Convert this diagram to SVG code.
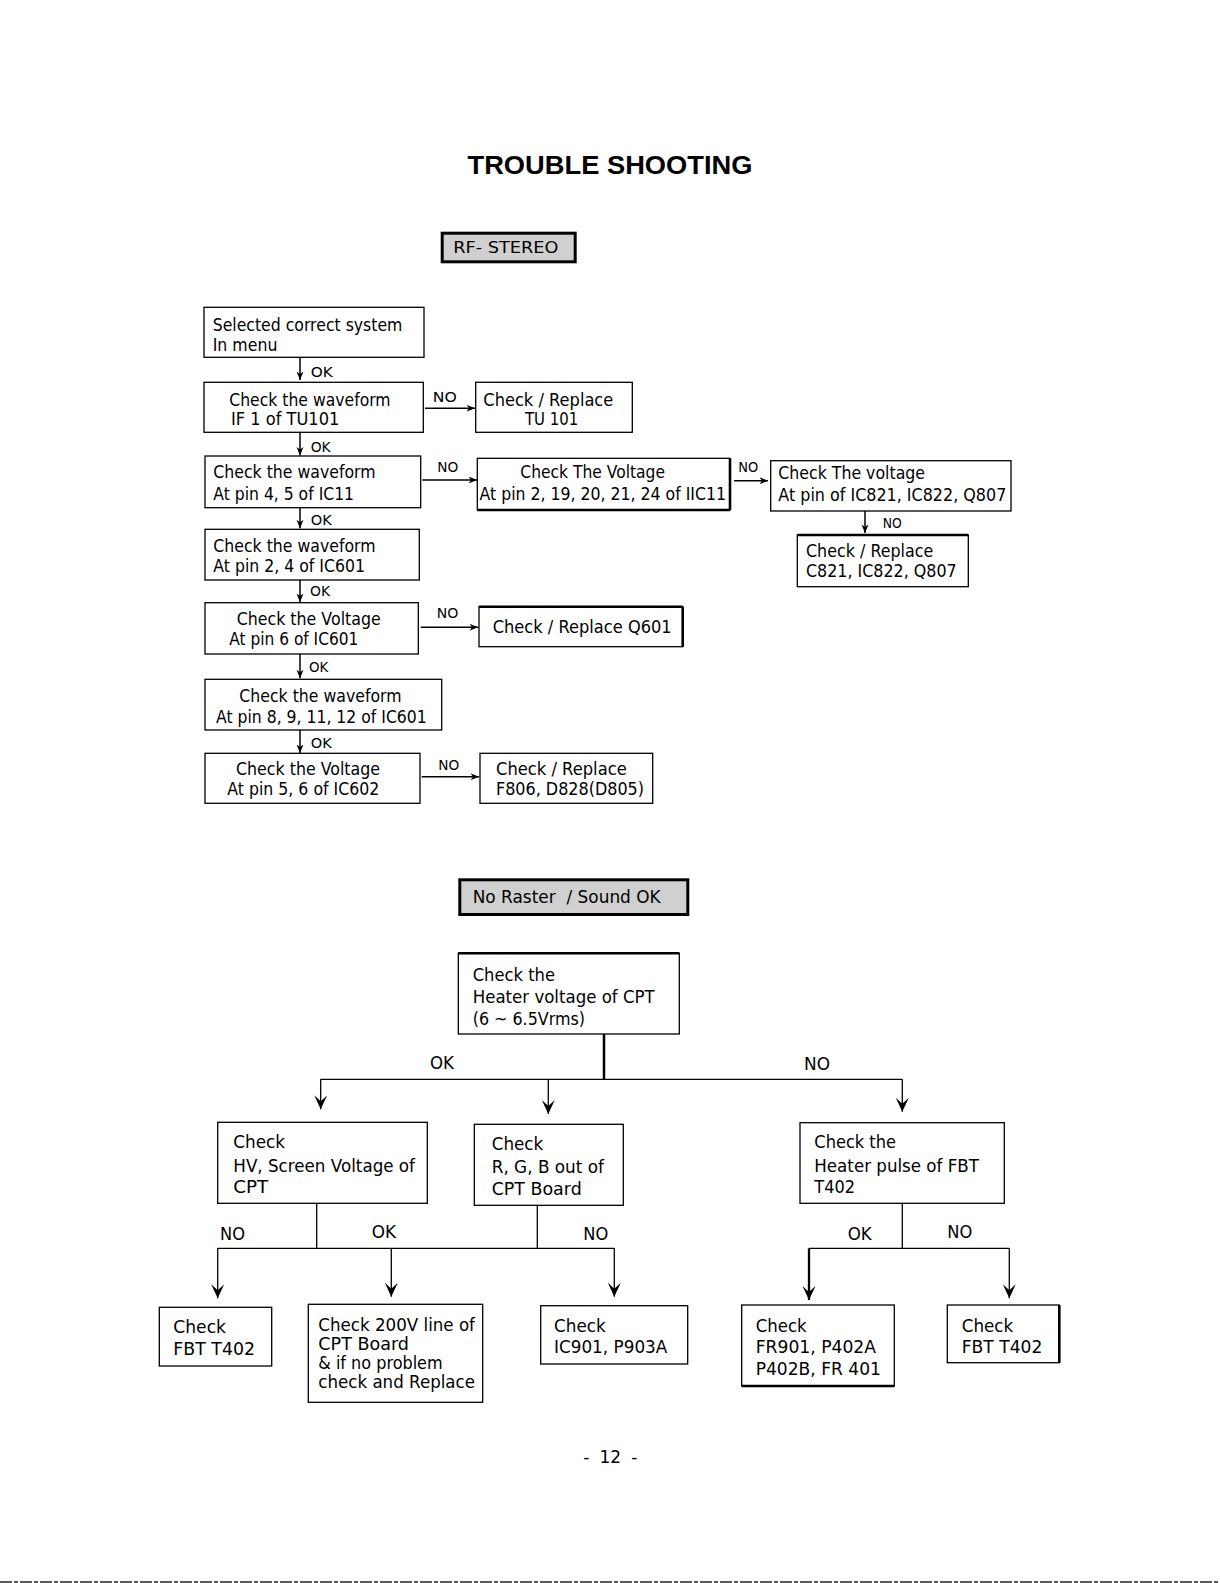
<svg xmlns="http://www.w3.org/2000/svg" width="1220" height="1583" viewBox="0 0 1220 1583">
<style>
.bg{fill:#fff}
.box{fill:#fff;stroke:#000;stroke-width:1.3}
.hdr{fill:#d0d0d0;stroke:#000;stroke-width:3}
.thk{stroke:#000;stroke-width:2.6}
.t{font-family:"DejaVu Sans","Liberation Sans",sans-serif;font-size:18px;fill:#000;white-space:pre}
.s{font-size:14.5px}
.l{font-size:17px}
.h{font-size:16px}
.ttl{font-family:"Liberation Sans",Arial,sans-serif;font-size:26.5px;font-weight:bold;fill:#000}
.c{stroke:#000;stroke-width:1.3;fill:none}
.cs{stroke:#000;stroke-width:1.5;fill:none;marker-end:url(#sa)}
.cl{stroke:#000;stroke-width:1.3;fill:none;marker-end:url(#la)}
</style>
<defs>
<marker id="sa" markerUnits="userSpaceOnUse" markerWidth="9" markerHeight="8" refX="8.5" refY="3.5" orient="auto">
<path d="M0,0 L8.5,3.5 L0,7 L2.5,3.5 z" fill="#000"/>
</marker>
<marker id="la" markerUnits="userSpaceOnUse" markerWidth="15" markerHeight="14" refX="14" refY="6.5" orient="auto">
<path d="M0,0 L14,6.5 L0,13 L6,6.5 z" fill="#000"/>
</marker>
</defs>
<rect class="bg" x="0" y="0" width="1220" height="1583"/>

<g id="title">
<text class="ttl" x="467.5" y="174" textLength="285" lengthAdjust="spacingAndGlyphs">TROUBLE SHOOTING</text>
</g>

<g id="n_rf">
<rect class="hdr" x="442.2" y="233.2" width="133" height="28.6"/>
<text class="t h" x="453.3" y="253.3" textLength="105" lengthAdjust="spacingAndGlyphs">RF- STEREO</text>
</g>

<g id="n1">
<rect class="box" x="204" y="307.3" width="220" height="50"/>
<text class="t" x="212.7" y="331.3" textLength="189.7" lengthAdjust="spacingAndGlyphs">Selected correct system</text>
<text class="t" x="212.7" y="350.7" textLength="64.7" lengthAdjust="spacingAndGlyphs">In menu</text>
</g>
<g id="n2">
<rect class="box" x="204" y="382.3" width="219.3" height="50"/>
<text class="t" x="229.3" y="405.7" textLength="161.3" lengthAdjust="spacingAndGlyphs">Check the waveform</text>
<text class="t" x="231" y="425" textLength="108.3" lengthAdjust="spacingAndGlyphs">IF 1 of TU101</text>
</g>
<g id="n3">
<rect class="box" x="475.7" y="382.3" width="156.6" height="50"/>
<text class="t" x="483.3" y="405.7" textLength="130" lengthAdjust="spacingAndGlyphs">Check / Replace</text>
<text class="t" x="525" y="425" textLength="53.3" lengthAdjust="spacingAndGlyphs">TU 101</text>
</g>
<g id="n4">
<rect class="box" x="205" y="456" width="215.7" height="51.7"/>
<text class="t" x="213.3" y="478.3" textLength="162.3" lengthAdjust="spacingAndGlyphs">Check the waveform</text>
<text class="t" x="213.3" y="500" textLength="140.7" lengthAdjust="spacingAndGlyphs">At pin 4, 5 of IC11</text>
</g>
<g id="n5">
<rect class="box" x="477.3" y="458.3" width="252.7" height="51.7"/>
<line class="thk" x1="477.3" y1="510" x2="730" y2="510"/>
<line class="thk" x1="730" y1="458.3" x2="730" y2="510"/>
<text class="t" x="520.3" y="478.3" textLength="144.7" lengthAdjust="spacingAndGlyphs">Check The Voltage</text>
<text class="t" x="479.5" y="500" textLength="246.5" lengthAdjust="spacingAndGlyphs">At pin 2, 19, 20, 21, 24 of IIC11</text>
</g>
<g id="n6">
<rect class="box" x="770.7" y="460.7" width="240.3" height="50.3"/>
<text class="t" x="778.3" y="479.3" textLength="146.7" lengthAdjust="spacingAndGlyphs">Check The voltage</text>
<text class="t" x="778.3" y="501" textLength="228" lengthAdjust="spacingAndGlyphs">At pin of IC821, IC822, Q807</text>
</g>
<g id="n7">
<rect class="box" x="797.3" y="535" width="171" height="51.7"/>
<line class="thk" x1="797.3" y1="535" x2="968.3" y2="535"/>
<text class="t" x="806" y="556.7" textLength="127.3" lengthAdjust="spacingAndGlyphs">Check / Replace</text>
<text class="t" x="806" y="576.7" textLength="150.7" lengthAdjust="spacingAndGlyphs">C821, IC822, Q807</text>
</g>
<g id="n8">
<rect class="box" x="205" y="529.3" width="214.3" height="50.7"/>
<text class="t" x="213.3" y="551.7" textLength="162.3" lengthAdjust="spacingAndGlyphs">Check the waveform</text>
<text class="t" x="213.3" y="572.3" textLength="151.7" lengthAdjust="spacingAndGlyphs">At pin 2, 4 of IC601</text>
</g>
<g id="n9">
<rect class="box" x="205" y="602.7" width="213.3" height="51.3"/>
<text class="t" x="236.7" y="625" textLength="144" lengthAdjust="spacingAndGlyphs">Check the Voltage</text>
<text class="t" x="229.3" y="645" textLength="129" lengthAdjust="spacingAndGlyphs">At pin 6 of IC601</text>
</g>
<g id="n10">
<rect class="box" x="479" y="606.7" width="203.7" height="40"/>
<line class="thk" x1="479" y1="606.7" x2="682.7" y2="606.7"/>
<line class="thk" x1="682.7" y1="606.7" x2="682.7" y2="646.7"/>
<text class="t" x="492.7" y="632.7" textLength="179" lengthAdjust="spacingAndGlyphs">Check / Replace Q601</text>
</g>
<g id="n11">
<rect class="box" x="205" y="679.3" width="236.7" height="50.7"/>
<text class="t" x="239.3" y="701.7" textLength="162.3" lengthAdjust="spacingAndGlyphs">Check the waveform</text>
<text class="t" x="216" y="722.7" textLength="210.7" lengthAdjust="spacingAndGlyphs">At pin 8, 9, 11, 12 of IC601</text>
</g>
<g id="n12">
<rect class="box" x="205" y="753.3" width="215" height="50"/>
<text class="t" x="236" y="775" textLength="144" lengthAdjust="spacingAndGlyphs">Check the Voltage</text>
<text class="t" x="227.3" y="795" textLength="152" lengthAdjust="spacingAndGlyphs">At pin 5, 6 of IC602</text>
</g>
<g id="n13">
<rect class="box" x="480" y="753.3" width="172.7" height="50"/>
<text class="t" x="496" y="775" textLength="130.7" lengthAdjust="spacingAndGlyphs">Check / Replace</text>
<text class="t" x="496" y="795" textLength="148" lengthAdjust="spacingAndGlyphs">F806, D828(D805)</text>
</g>

<g id="n_raster">
<rect class="hdr" x="459.8" y="879.8" width="228" height="34.7"/>
<text class="t" x="472.7" y="902.7" textLength="188" lengthAdjust="spacingAndGlyphs">No Raster  / Sound OK</text>
</g>
<g id="n_heater">
<rect class="box" x="458.3" y="953.3" width="221" height="80.7"/>
<line class="thk" x1="458.3" y1="953.3" x2="679.3" y2="953.3"/>
<text class="t" x="472.7" y="980.7" textLength="82.3" lengthAdjust="spacingAndGlyphs">Check the</text>
<text class="t" x="472.7" y="1002.7" textLength="182" lengthAdjust="spacingAndGlyphs">Heater voltage of CPT</text>
<text class="t" x="472.7" y="1025" textLength="112.3" lengthAdjust="spacingAndGlyphs">(6 ~ 6.5Vrms)</text>
</g>
<g id="n_hv">
<rect class="box" x="217.7" y="1122.3" width="209.6" height="81"/>
<text class="t" x="233.3" y="1148.3" textLength="51.7" lengthAdjust="spacingAndGlyphs">Check</text>
<text class="t" x="233.3" y="1171.7" textLength="181.7" lengthAdjust="spacingAndGlyphs">HV, Screen Voltage of</text>
<text class="t" x="233.3" y="1193.3" textLength="35" lengthAdjust="spacingAndGlyphs">CPT</text>
</g>
<g id="n_rgb">
<rect class="box" x="474.3" y="1124.3" width="149" height="81"/>
<text class="t" x="491.7" y="1150" textLength="51.6" lengthAdjust="spacingAndGlyphs">Check</text>
<text class="t" x="491.7" y="1173.3" textLength="112.3" lengthAdjust="spacingAndGlyphs">R, G, B out of</text>
<text class="t" x="491.7" y="1195" textLength="90" lengthAdjust="spacingAndGlyphs">CPT Board</text>
</g>
<g id="n_pulse">
<rect class="box" x="800" y="1122.7" width="204.3" height="80.6"/>
<text class="t" x="814.3" y="1148.3" textLength="81.7" lengthAdjust="spacingAndGlyphs">Check the</text>
<text class="t" x="814.3" y="1171.7" textLength="164.7" lengthAdjust="spacingAndGlyphs">Heater pulse of FBT</text>
<text class="t" x="814.3" y="1193.3" textLength="40.7" lengthAdjust="spacingAndGlyphs">T402</text>
</g>
<g id="n_fbt1">
<rect class="box" x="159.3" y="1307.3" width="112.4" height="58.7"/>
<text class="t" x="173.3" y="1333.3" textLength="52.7" lengthAdjust="spacingAndGlyphs">Check</text>
<text class="t" x="173.3" y="1355" textLength="81.7" lengthAdjust="spacingAndGlyphs">FBT T402</text>
</g>
<g id="n_200v">
<rect class="box" x="308.3" y="1304.3" width="174.4" height="98"/>
<text class="t" x="318.3" y="1330.7" textLength="156.7" lengthAdjust="spacingAndGlyphs">Check 200V line of</text>
<text class="t" x="318.3" y="1350" textLength="90.7" lengthAdjust="spacingAndGlyphs">CPT Board</text>
<text class="t" x="318.3" y="1369.3" textLength="124.3" lengthAdjust="spacingAndGlyphs">&amp; if no problem</text>
<text class="t" x="318.3" y="1388.3" textLength="156.7" lengthAdjust="spacingAndGlyphs">check and Replace</text>
</g>
<g id="n_ic901">
<rect class="box" x="540.7" y="1305.7" width="147" height="58.3"/>
<text class="t" x="554" y="1331.7" textLength="51.7" lengthAdjust="spacingAndGlyphs">Check</text>
<text class="t" x="554" y="1353.3" textLength="113.3" lengthAdjust="spacingAndGlyphs">IC901, P903A</text>
</g>
<g id="n_fr901">
<rect class="box" x="741.7" y="1305" width="152.6" height="81"/>
<line class="thk" x1="741.7" y1="1386" x2="894.3" y2="1386"/>
<text class="t" x="755.7" y="1331.7" textLength="51" lengthAdjust="spacingAndGlyphs">Check</text>
<text class="t" x="755.7" y="1353.3" textLength="120.3" lengthAdjust="spacingAndGlyphs">FR901, P402A</text>
<text class="t" x="755.7" y="1375" textLength="125.3" lengthAdjust="spacingAndGlyphs">P402B, FR 401</text>
</g>
<g id="n_fbt2">
<rect class="box" x="947.3" y="1305" width="112" height="57.7"/>
<line class="thk" x1="1059.3" y1="1305" x2="1059.3" y2="1362.7"/>
<text class="t" x="961.7" y="1331.7" textLength="51.6" lengthAdjust="spacingAndGlyphs">Check</text>
<text class="t" x="961.7" y="1353.3" textLength="80.7" lengthAdjust="spacingAndGlyphs">FBT T402</text>
</g>

<g id="connectors">
<line class="cs" x1="300" y1="357.3" x2="300" y2="380"/>
<line class="cs" x1="300" y1="432.3" x2="300" y2="455.5"/>
<line class="cs" x1="300" y1="507.7" x2="300" y2="528.3"/>
<line class="cs" x1="300" y1="580" x2="300" y2="602"/>
<line class="cs" x1="300" y1="654" x2="300" y2="678.3"/>
<line class="cs" x1="300" y1="730" x2="300" y2="753"/>
<line class="cs" x1="865" y1="511" x2="865" y2="533"/>
<line class="cs" x1="425" y1="408.3" x2="475" y2="408.3"/>
<line class="cs" x1="422.3" y1="480" x2="477" y2="480"/>
<line class="cs" x1="734" y1="480.7" x2="768" y2="480.7"/>
<line class="cs" x1="420.7" y1="627.3" x2="478" y2="627.3"/>
<line class="cs" x1="421.7" y1="776.7" x2="479" y2="776.7"/>
<text class="t s" x="310.7" y="376.7" textLength="22" lengthAdjust="spacingAndGlyphs">OK</text>
<text class="t s" x="310.7" y="451.7" textLength="20" lengthAdjust="spacingAndGlyphs">OK</text>
<text class="t s" x="310.7" y="525" textLength="21" lengthAdjust="spacingAndGlyphs">OK</text>
<text class="t s" x="310" y="595.7" textLength="20" lengthAdjust="spacingAndGlyphs">OK</text>
<text class="t s" x="309" y="671.7" textLength="19.3" lengthAdjust="spacingAndGlyphs">OK</text>
<text class="t s" x="310.7" y="748.3" textLength="21" lengthAdjust="spacingAndGlyphs">OK</text>
<text class="t s" x="432.7" y="401.7" textLength="24" lengthAdjust="spacingAndGlyphs">NO</text>
<text class="t s" x="437.3" y="472.3" textLength="21" lengthAdjust="spacingAndGlyphs">NO</text>
<text class="t s" x="738.3" y="471.7" textLength="20" lengthAdjust="spacingAndGlyphs">NO</text>
<text class="t s" x="882.7" y="528.3" textLength="19" lengthAdjust="spacingAndGlyphs">NO</text>
<text class="t s" x="436.7" y="618.3" textLength="21.6" lengthAdjust="spacingAndGlyphs">NO</text>
<text class="t s" x="438.3" y="770" textLength="21" lengthAdjust="spacingAndGlyphs">NO</text>

<line class="c" x1="604" y1="1034" x2="604" y2="1080" style="stroke-width:2.5"/>
<line class="c" x1="320.7" y1="1079.3" x2="902.3" y2="1079.3"/>
<line class="cl" x1="320.7" y1="1079.3" x2="320.7" y2="1109.3"/>
<line class="cl" x1="548.3" y1="1079.3" x2="548.3" y2="1114"/>
<line class="cl" x1="902.3" y1="1079.3" x2="902.3" y2="1111.7"/>
<line class="c" x1="316.7" y1="1203.3" x2="316.7" y2="1248.3"/>
<line class="c" x1="537.3" y1="1205.3" x2="537.3" y2="1248.3"/>
<line class="c" x1="217.7" y1="1248.3" x2="614.3" y2="1248.3"/>
<line class="cl" x1="217.7" y1="1248.3" x2="217.7" y2="1298.3"/>
<line class="cl" x1="391.3" y1="1248.3" x2="391.3" y2="1296.7"/>
<line class="cl" x1="614.3" y1="1248.3" x2="614.3" y2="1296.7"/>
<line class="c" x1="902.3" y1="1203.3" x2="902.3" y2="1248.3"/>
<line class="c" x1="809" y1="1248.3" x2="1009.3" y2="1248.3"/>
<line class="cl" x1="809" y1="1248.3" x2="809" y2="1300" style="stroke-width:2.3"/>
<line class="cl" x1="1009.3" y1="1248.3" x2="1009.3" y2="1298.3"/>
<text class="t l" x="430" y="1069.3" textLength="24" lengthAdjust="spacingAndGlyphs">OK</text>
<text class="t l" x="804" y="1070" textLength="26" lengthAdjust="spacingAndGlyphs">NO</text>
<text class="t l" x="220" y="1240" textLength="25" lengthAdjust="spacingAndGlyphs">NO</text>
<text class="t l" x="371.7" y="1238.3" textLength="24.3" lengthAdjust="spacingAndGlyphs">OK</text>
<text class="t l" x="583.3" y="1240" textLength="25" lengthAdjust="spacingAndGlyphs">NO</text>
<text class="t l" x="847.7" y="1240" textLength="24" lengthAdjust="spacingAndGlyphs">OK</text>
<text class="t l" x="947.3" y="1238.3" textLength="25" lengthAdjust="spacingAndGlyphs">NO</text>
</g>

<g id="page_number">
<text class="t l" x="583.3" y="1463" textLength="54" lengthAdjust="spacing">-  12  -</text>
</g>
<line x1="0" y1="1582" x2="1220" y2="1582" stroke="#222" stroke-width="1.5" stroke-dasharray="12 2 4 2"/>
</svg>
